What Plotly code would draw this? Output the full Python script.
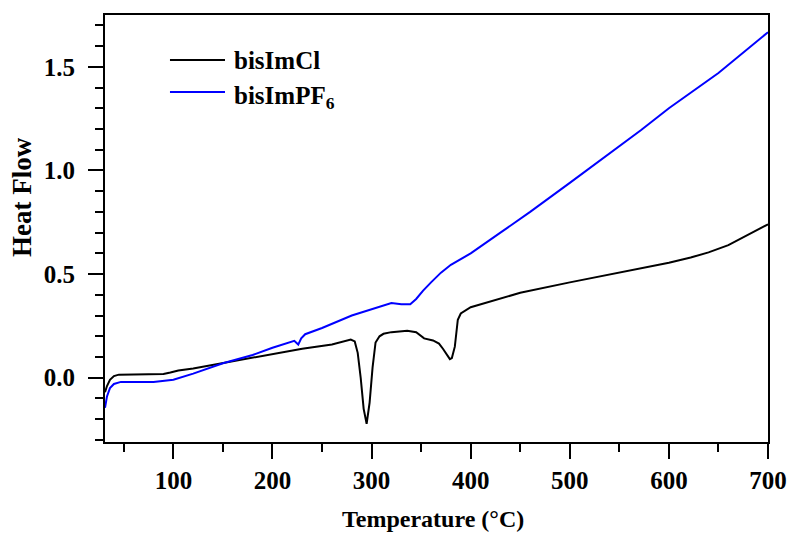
import plotly.graph_objects as go

# bisImCl (black)
t_cl = [31, 33, 36, 40, 45, 55, 70, 90, 97, 105, 120, 150, 178, 200, 230, 260, 279,
        283, 286, 289, 292, 295, 298, 301, 304, 308, 312, 320, 336, 345, 353, 362,
        368, 372, 376, 379, 381, 384, 387, 390, 400, 430, 450, 500, 531, 550, 600,
        622, 640, 660, 680, 700]
hf_cl = [-0.07, -0.04, -0.01, 0.008, 0.015, 0.015, 0.015, 0.018, 0.025, 0.035, 0.045,
         0.07, 0.097, 0.115, 0.14, 0.16, 0.184,
         0.175, 0.12, 0.0, -0.15, -0.222, -0.12, 0.05, 0.17, 0.2, 0.212, 0.22, 0.227,
         0.22, 0.19, 0.18,
         0.165, 0.14, 0.11, 0.09, 0.095, 0.15, 0.28, 0.31, 0.34, 0.38, 0.41, 0.46,
         0.49, 0.51, 0.555, 0.58, 0.605, 0.64, 0.69, 0.74]

# bisImPF6 (blue)
t_pf = [31, 33, 36, 40, 47, 60, 80, 100, 120, 150, 180, 200, 218, 222, 226, 229, 233,
        250, 280, 300, 312, 320, 330, 339, 345, 352, 360, 370, 380, 390, 400, 430,
        460, 500, 531, 550, 572, 600, 615, 650, 700]
hf_pf = [-0.145, -0.09, -0.05, -0.03, -0.02, -0.02, -0.02, -0.01, 0.02, 0.07, 0.11,
         0.145, 0.175, 0.178, 0.16, 0.19, 0.21,
         0.24, 0.3, 0.33, 0.35, 0.36, 0.355, 0.355, 0.38, 0.42, 0.46, 0.507, 0.545,
         0.572, 0.6, 0.7,
         0.8, 0.94, 1.05, 1.12, 1.195, 1.3, 1.35, 1.47, 1.667]

series_names = ["bisImCl", "bisImPF<sub>6</sub>"]
series_colors = ["black", "#0000ff"]

x_range = [31, 700]
y_range = [-0.31, 1.75]

FONT = "Liberation Serif"

fig = go.Figure()
fig.add_trace(go.Scatter(x=t_cl, y=hf_cl, mode="lines", name=series_names[0],
                         line=dict(color=series_colors[0], width=2), showlegend=False))
fig.add_trace(go.Scatter(x=t_pf, y=hf_pf, mode="lines", name=series_names[1],
                         line=dict(color=series_colors[1], width=2), showlegend=False))

axis_common = dict(
    showline=True, linecolor="black", linewidth=2, mirror=True,
    ticks="outside", ticklen=15, tickwidth=2, tickcolor="black",
    showgrid=False, zeroline=False, automargin=False,
    tickfont=dict(family=FONT, size=25, color="black", weight="bold"),
)

fig.update_xaxes(range=x_range, dtick=100, tick0=0,
                 minor=dict(dtick=50, tick0=0, ticklen=8, tickwidth=2,
                            tickcolor="black", ticks="outside", showgrid=False),
                 **axis_common)
fig.update_yaxes(range=y_range, dtick=0.5, tick0=0, tickformat=".1f",
                 ticklabelstandoff=8,
                 minor=dict(dtick=0.1, tick0=0, ticklen=8, tickwidth=2,
                            tickcolor="black", ticks="outside", showgrid=False),
                 **axis_common)

fig.add_annotation(text="<b>Heat Flow</b>", xref="paper", yref="paper",
                   x=-0.125, y=0.574, xanchor="center", yanchor="middle",
                   textangle=-90, showarrow=False,
                   font=dict(family=FONT, size=27, color="black"))
fig.add_annotation(text="<b>Temperature (°C)</b>", xref="paper", yref="paper",
                   x=0.495, y=-0.18, xanchor="center", yanchor="middle",
                   showarrow=False,
                   font=dict(family=FONT, size=24, color="black"))

# legend drawn as line samples + labels (paper coordinates)
leg_x0, leg_x1, leg_tx = 0.098, 0.181, 0.192
leg_y = [0.8946, 0.8197]
leg_ty = [0.8946, 0.806]
for name, color, ly, ty in zip(series_names, series_colors, leg_y, leg_ty):
    fig.add_shape(type="line", xref="paper", yref="paper",
                  x0=leg_x0, x1=leg_x1, y0=ly, y1=ly,
                  line=dict(color=color, width=2))
    fig.add_annotation(text="<b>" + name + "</b>", xref="paper", yref="paper",
                       x=leg_tx, y=ty, xanchor="left", yanchor="middle",
                       showarrow=False,
                       font=dict(family=FONT, size=25, color="black"))

fig.update_layout(
    width=790, height=535,
    margin=dict(l=105, r=22, t=15, b=93),
    paper_bgcolor="white", plot_bgcolor="white",
    showlegend=False,
)

fig.write_html("out.html")
